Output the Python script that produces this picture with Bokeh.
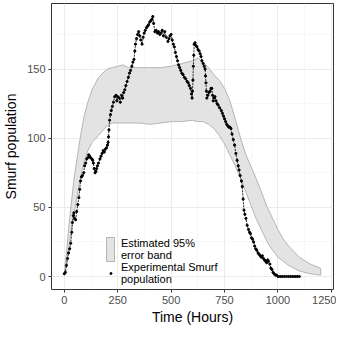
from bokeh.plotting import figure
from bokeh.models import (ColumnDataSource, FixedTicker, Legend, LegendItem, Range1d)
from bokeh.embed import file_html
from bokeh.resources import INLINE

# ---- data ----
band_t = [0, 10, 25, 45, 70, 90, 110, 130, 160, 200, 225, 250, 275, 300, 350, 400,
          450, 500, 550, 600, 625, 650, 675, 700, 725, 750, 775, 800, 825, 850, 875,
          900, 925, 950, 975, 1000, 1025, 1050, 1075, 1100, 1150, 1200]
band_upper = [2, 17, 42, 70, 96, 114, 126, 135, 144, 150, 151, 152, 153, 151, 151, 151,
              151, 152, 154, 156, 158, 155, 151, 146, 142, 136, 127, 114, 100, 88, 79,
              70, 60, 50, 42, 34, 27, 22, 18, 14, 9, 6]
band_lower = [1, 8, 26, 45, 67, 82, 91, 97, 102, 109, 111, 111, 111, 111, 111, 110,
              111, 112, 112, 113, 112, 112, 110, 107, 102, 96, 88, 80, 71, 61, 51,
              41, 33, 25, 19, 14, 11, 8, 6, 4, 2, 1]

obs_t = [0, 5, 10, 15, 20, 25, 30, 35, 38, 42, 45, 48, 53, 58, 63, 68, 72, 76, 80, 85,
         91, 95, 100, 105, 110, 114, 118, 122, 129, 133, 136, 140, 144, 148, 151, 155,
         160, 167, 172, 177, 182, 187, 192, 197, 202, 205, 207, 209, 212, 216, 220, 225,
         230, 236, 242, 246, 250, 257, 262, 268, 273, 278, 283, 288, 294, 300, 305, 310,
         316, 321, 326, 330, 333, 338, 343, 348, 353, 358, 364, 369, 374, 379, 385, 390,
         394, 400, 405, 410, 414, 418, 424, 430, 436, 441, 447, 452, 458, 464, 470, 477,
         485, 490, 495, 500, 505, 510, 515, 520, 525, 530, 535, 540, 545, 550, 556, 562,
         568, 575, 580, 585, 591, 595, 598, 600, 602, 604, 606, 608, 612, 616, 621, 626,
         631, 636, 640, 644, 650, 655, 659, 661, 663, 665, 667, 672, 677, 682, 687, 690,
         694, 697, 701, 705, 710, 715, 720, 727, 735, 740, 745, 750, 755, 760, 765, 770,
         775, 780, 785, 791, 797, 803, 809, 814, 818, 823, 829, 833, 837, 841, 845, 850,
         856, 862, 867, 871, 876, 881, 886, 891, 896, 901, 907, 912, 917, 922, 927, 932,
         937, 942, 947, 952, 955, 962, 967, 972, 977, 982, 988, 994, 1000, 1010, 1020,
         1030, 1040, 1050, 1060, 1070, 1080, 1090, 1100]
obs_v = [2, 3, 8, 13, 17, 20, 24, 32, 39, 44, 46, 42, 41, 47, 52, 57, 63, 69, 72, 73,
         75, 80, 82, 85, 86, 88, 87, 86, 85, 84, 82, 78, 75, 76, 78, 80,
         82, 85, 87, 89, 91, 90, 92, 93, 95, 97, 101, 106, 113, 117, 120, 123,
         126, 130, 131, 127, 130, 129, 126, 131, 129, 133, 135, 138, 141, 144, 147, 149,
         152, 155, 157, 163, 168, 172, 175, 177, 174, 171, 168, 173, 176, 178, 180, 181,
         182, 184, 185, 186, 188, 183, 177, 178, 176, 177, 175, 176, 178, 174, 177, 173,
         170, 172, 174, 175, 171, 168, 166, 162, 159, 156, 153, 151, 149, 147, 146, 144,
         143, 141, 140, 138, 136, 132, 129, 134, 142, 152, 160, 168, 169, 167, 166, 164,
         163, 161, 159, 156, 154, 152, 150, 145, 140, 134, 129, 131, 133, 134, 136, 136,
         131, 127, 129, 130, 127, 125, 124, 122, 120, 118, 116, 114, 112, 110, 109, 108,
         108, 107, 103, 99, 95, 89, 84, 80, 77, 73, 69, 65, 56, 48, 45, 42,
         37, 34, 32, 31, 28, 27, 25, 22, 20, 19, 17, 16, 15, 14, 15, 13,
         12, 11, 10, 12, 11, 9, 6, 5, 3, 2, 1, 1, 0, 0, 0,
         0, 0, 0, 0, 0, 0, 0, 0]

x_ticks = [0, 250, 500, 750, 1000, 1250]
y_ticks = [0, 50, 100, 150]

FONT = "Liberation Sans"

p = figure(width=336, height=327, output_backend="svg", toolbar_location=None,
           x_range=Range1d(-60, 1260), y_range=Range1d(-9.4, 197.4),
           min_border_left=45, min_border_right=3, min_border_top=3, min_border_bottom=34,
           background_fill_color="white", border_fill_color="white")

# band polygon (upper forward, lower back)
band_src = ColumnDataSource(dict(x=band_t + band_t[::-1], y=band_upper + band_lower[::-1]))
band = p.patch("x", "y", source=band_src, fill_color="#e3e3e3", fill_alpha=1.0,
               line_color="#b5b5b5", line_width=1)

obs_src = ColumnDataSource(dict(t=obs_t, v=obs_v))
p.line("t", "v", source=obs_src, line_color="#111111", line_width=0.9, line_dash="2 1")
pts = p.scatter("t", "v", source=obs_src, size=2.2, color="black")

# axes / grid styling (theme_bw-like)
p.xaxis.ticker = FixedTicker(ticks=x_ticks, minor_ticks=[125, 375, 625, 875, 1125])
p.yaxis.ticker = FixedTicker(ticks=y_ticks, minor_ticks=[25, 75, 125, 175])
for ax in (p.xaxis[0], p.yaxis[0]):
    ax.axis_line_color = None
    ax.major_tick_line_color = "#333333"
    ax.major_tick_out = 3
    ax.major_tick_in = 0
    ax.minor_tick_line_color = None
    ax.major_label_text_font = FONT
    ax.major_label_text_font_size = "11px"
    ax.major_label_text_color = "#4d4d4d"
    ax.major_label_standoff = 2
    ax.axis_label_text_font = FONT
    ax.axis_label_text_font_size = "14px"
    ax.axis_label_text_font_style = "normal"
    ax.axis_label_text_color = "black"
p.xaxis.axis_label = "Time (Hours)"
p.yaxis.axis_label = "Smurf population"
p.xaxis.axis_label_standoff = 2
p.yaxis.axis_label_standoff = 5

p.grid.grid_line_color = "#ebebeb"
p.grid.grid_line_width = 1
p.grid.minor_grid_line_color = "#f2f2f2"
p.grid.minor_grid_line_width = 0.6
p.outline_line_color = "#333333"
p.outline_line_width = 1

legend_common = dict(orientation="vertical", background_fill_alpha=0, border_line_alpha=0,
                     padding=0, margin=0, spacing=0, glyph_height=30,
                     label_text_font=FONT, label_text_font_size="11px",
                     label_text_line_height=1.05, label_text_color="black")
legend_band = Legend(items=[LegendItem(label="Estimated 95%\nerror band", renderers=[band])],
                     location=(54, 25), glyph_width=10, label_standoff=6, **legend_common)
legend_pts = Legend(items=[LegendItem(label="Experimental Smurf\npopulation", renderers=[pts])],
                    location=(57, 1), glyph_width=5, label_standoff=8, **legend_common)
p.add_layout(legend_band, "center")
p.add_layout(legend_pts, "center")

open("out.html", "w").write(file_html(p, INLINE))
